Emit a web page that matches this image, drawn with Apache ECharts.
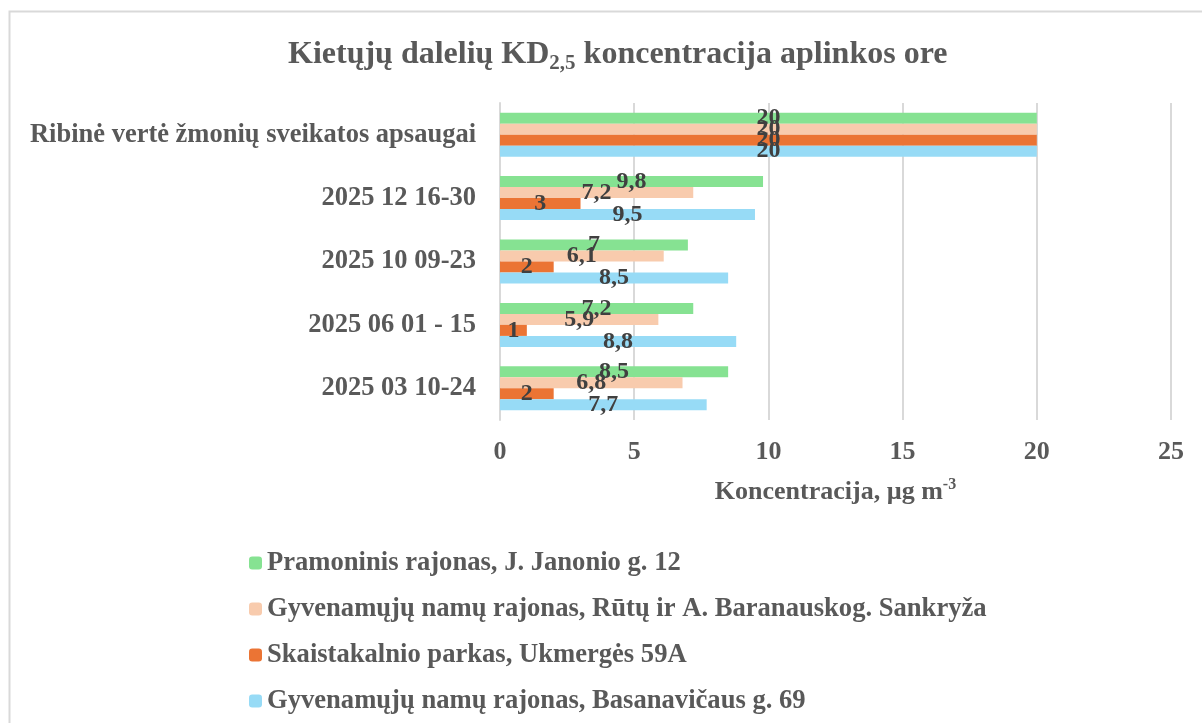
<!DOCTYPE html>
<html>
<head>
<meta charset="utf-8">
<script src="https://cdn.jsdelivr.net/npm/echarts@6/dist/echarts.min.js"></script>
<style>
  html, body { margin: 0; padding: 0; background: #fff; }
  #chart { width: 1202px; height: 723px; }
</style>
</head>
<body>
<div id="chart"></div>
<script>
// kategorijos (iš apačios į viršų)
const categories = ['2025 03 10-24', '2025 06 01 - 15', '2025 10 09-23', '2025 12 16-30', 'Ribinė vertė žmonių sveikatos apsaugai']

const seriesNames = [
    'Pramoninis rajonas, J. Janonio g. 12',
    'Gyvenamųjų namų rajonas, Rūtų ir A. Baranauskog. Sankryža',
    'Skaistakalnio parkas, Ukmergės 59A',
    'Gyvenamųjų namų rajonas, Basanavičaus g. 69',
]
const pramoninis = [8.5, 7.2, 7, 9.8, 20]
const rutu = [6.8, 5.9, 6.1, 7.2, 20]
const skaistakalnio = [2, 1, 2, 3, 20]
const basanaviciaus = [7.7, 8.8, 8.5, 9.5, 20]

const xTicks = [0, 5, 10, 15, 20, 25]

const colors = ['#86E292', '#F8CBAD', '#EB7434', '#97DBF6']
const serif = '"Liberation Serif", "Times New Roman", serif'
const textColor = '#595959'

const chart = echarts.init(document.getElementById('chart'))

const makeSeries = (name, data, color) => ({
    name,
    type: 'bar',
    data,
    barWidth: 11,
    barGap: '0%',
    itemStyle: { color },
    label: {
        show: true,
        position: 'inside',
        formatter: p => String(p.value).replace('.', ','),
        color: '#404040',
        fontFamily: serif,
        fontWeight: 'bold',
        fontSize: 24,
    },
})

chart.setOption({
    animation: false,
    backgroundColor: '#fff',
    title: {
        text: '{m|Kietųjų dalelių KD}{sub|2,5}{m| koncentracija aplinkos ore}',
        left: 283,
        top: 31,
        textStyle: {
            rich: {
                m: { fontFamily: serif, fontWeight: 'bold', fontSize: 32, color: textColor, lineHeight: 38 },
                sub: { fontFamily: serif, fontWeight: 'bold', fontSize: 21, color: textColor, lineHeight: 38, verticalAlign: 'bottom' },
            },
        },
    },
    legend: {
        orient: 'vertical',
        left: 244,
        top: 544,
        itemWidth: 13,
        itemHeight: 13,
        itemGap: 18,
        data: seriesNames,
        textStyle: { fontFamily: serif, fontWeight: 'bold', fontSize: 26.6, lineHeight: 28, color: textColor },
    },
    grid: { left: 500, right: 31, top: 103, height: 317 },
    xAxis: {
        type: 'value',
        min: 0,
        max: 25,
        interval: 5,
        axisLine: { show: false },
        axisTick: { show: false },
        splitLine: { lineStyle: { color: '#d9d9d9', width: 2 } },
        axisLabel: {
            margin: 19,
            formatter: v => xTicks.includes(v) ? String(v) : '',
            fontFamily: serif, fontWeight: 'bold', fontSize: 26, color: textColor,
        },
        name: '{m|Koncentracija, µg m}{sup|-3}',
        nameLocation: 'middle',
        nameGap: 57,
        nameTextStyle: {
            rich: {
                m: { fontFamily: serif, fontWeight: 'bold', fontSize: 26, color: textColor, lineHeight: 30 },
                sup: { fontFamily: serif, fontWeight: 'bold', fontSize: 16, color: textColor, lineHeight: 30, verticalAlign: 'top' },
            },
        },
    },
    yAxis: {
        type: 'category',
        data: categories,
        axisLine: { lineStyle: { color: '#d9d9d9', width: 2 } },
        axisTick: { show: false },
        axisLabel: {
            margin: 24,
            fontFamily: serif, fontWeight: 'bold', fontSize: 26.5, color: textColor,
        },
    },
    graphic: [{
        type: 'rect',
        shape: { x: 9.5, y: 11.5, width: 1200, height: 720 },
        style: { fill: 'none', stroke: '#d9d9d9', lineWidth: 2 },
        silent: true,
    }],
    series: [
        makeSeries(seriesNames[0], pramoninis, colors[0]),
        makeSeries(seriesNames[1], rutu, colors[1]),
        makeSeries(seriesNames[2], skaistakalnio, colors[2]),
        makeSeries(seriesNames[3], basanaviciaus, colors[3]),
    ],
})
</script>
</body>
</html>
